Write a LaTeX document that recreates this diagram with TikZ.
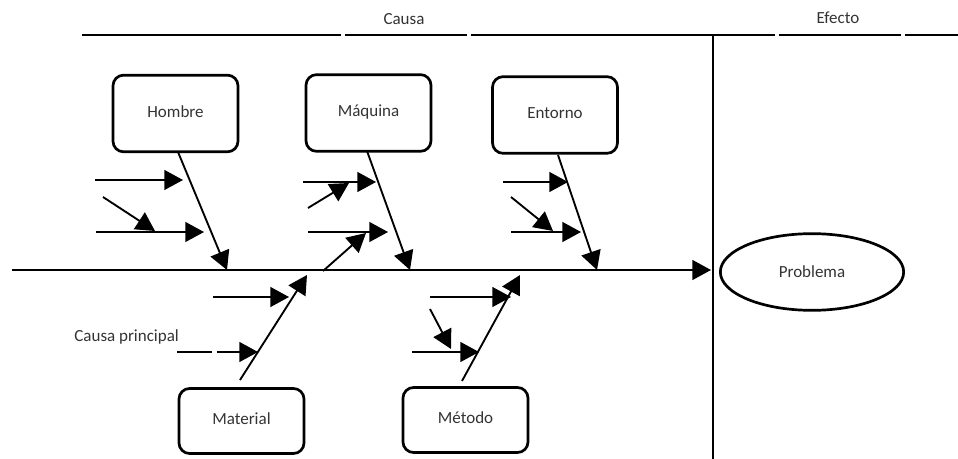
\documentclass[tikz,border=0pt]{standalone}
\usepackage{fontspec}
\setmainfont{Carlito}
\usetikzlibrary{arrows.meta,shapes.geometric}
\tikzset{
x=0.03cm,
y=-0.03cm,
>={Triangle[length=16pt,width=17pt]},
texto/.style={font=\fontsize{14.5}{16}\selectfont, text=black!80},
causa/.style={draw, texto, line width=2.3pt, rounded corners=9pt, minimum width=3.75cm, minimum height=2.3cm, text height=1.6ex, text depth=.3ex},
causab/.style={causa, minimum height=1.95cm},
hueso/.style={->, line width=1.6pt},
flecha/.style={->, line width=1.6pt},
encabezado/.style={line width=2.4pt},
}

\begin{document}
\begin{tikzpicture}
    \useasboundingbox (0,0) rectangle (958,459);

    % encabezado
    \draw[encabezado] (82,35) -- (341,35);
    \draw[encabezado] (345,35) -- (467,35);
    \draw[encabezado] (471,35) -- (775,35);
    \draw[encabezado] (779,35) -- (901,35);
    \draw[encabezado] (905,35) -- (958,35);
    \node[texto] (tcausa) at (404,19) {Causa};
    \node[texto] (tefecto) at (838,18) {Efecto};
    \draw[line width=1.6pt] (713,35) -- (713,459);

    % efecto
    \node[draw, ellipse, texto, line width=2.3pt, minimum width=5.5cm, minimum height=2.3cm] (problema) at (812,272) {Problema};

    % causas
    \node[causa] (hombre) at (175.5,113.5) {Hombre};
    \node[causa] (maquina) at (368.5,113) {Máquina};
    \node[causa] (entorno) at (555,115) {Entorno};
    \node[causab] (material) at (241.5,421) {Material};
    \node[causab] (metodo) at (465.5,420) {Método};

    % espina
    \coordinate (cola) at (12,270);
    \coordinate (cabeza) at (711,270);
    \draw[hueso] (cola) -- (cabeza);

    % huesos
    \coordinate (h0) at (178,152);
    \coordinate (h1) at (227,270);
    \coordinate (q0) at (367,151);
    \coordinate (q1) at (410,270);
    \coordinate (e0) at (558,155);
    \coordinate (e1) at (597,270);
    \coordinate (m0) at (240,380);
    \coordinate (m1) at (307,275);
    \coordinate (t0) at (462,381);
    \coordinate (t1) at (520,275);
    \draw[hueso] (h0) -- (h1);
    \draw[hueso] (q0) -- (q1);
    \draw[hueso] (e0) -- (e1);
    \draw[hueso] (m0) -- (m1);
    \draw[hueso] (t0) -- (t1);

    % subcausas Hombre
    \coordinate (ha) at (95,180);
    \coordinate (hb) at (183,180);
    \coordinate (hc) at (103,197);
    \coordinate (hd) at (155,231);
    \coordinate (he) at (96,232);
    \coordinate (hf) at (204,232);
    \draw[flecha] (ha) -- (hb);
    \draw[flecha] (hc) -- (hd);
    \draw[flecha] (he) -- (hf);

    % subcausas Maquina
    \coordinate (qa) at (303,182);
    \coordinate (qb) at (376,182);
    \coordinate (qc) at (308,208);
    \coordinate (qd) at (349,183);
    \coordinate (qe) at (308,232);
    \coordinate (qf) at (388,232);
    \coordinate (qg) at (323,271);
    \coordinate (qh) at (366,233);
    \draw[flecha] (qa) -- (qb);
    \draw[flecha] (qc) -- (qd);
    \draw[flecha] (qe) -- (qf);
    \draw[flecha] (qg) -- (qh);

    % subcausas Entorno
    \coordinate (ea) at (503,182);
    \coordinate (eb) at (568,182);
    \coordinate (ec) at (511,197);
    \coordinate (ed) at (553,231);
    \coordinate (ee) at (511,232);
    \coordinate (ef) at (581,232);
    \draw[flecha] (ea) -- (eb);
    \draw[flecha] (ec) -- (ed);
    \draw[flecha] (ee) -- (ef);

    % subcausas Material
    \coordinate (ma) at (213,297);
    \coordinate (mb) at (289,297);
    \coordinate (mc) at (177,352);
    \coordinate (md) at (258,352);
    \draw[flecha] (ma) -- (mb);
    \draw[flecha, dash pattern=on 30pt off 4pt on 100pt] (mc) -- (md);
    \node[texto, anchor=east] (principal) at (183,337) {Causa principal};

    % subcausas Metodo
    \coordinate (ta) at (430,297);
    \coordinate (tb) at (511,297);
    \coordinate (tc) at (430,309);
    \coordinate (td) at (451,349);
    \coordinate (te) at (412,352);
    \coordinate (tf) at (479,352);
    \draw[flecha] (ta) -- (tb);
    \draw[flecha] (tc) -- (td);
    \draw[flecha] (te) -- (tf);
\end{tikzpicture}
\end{document}
